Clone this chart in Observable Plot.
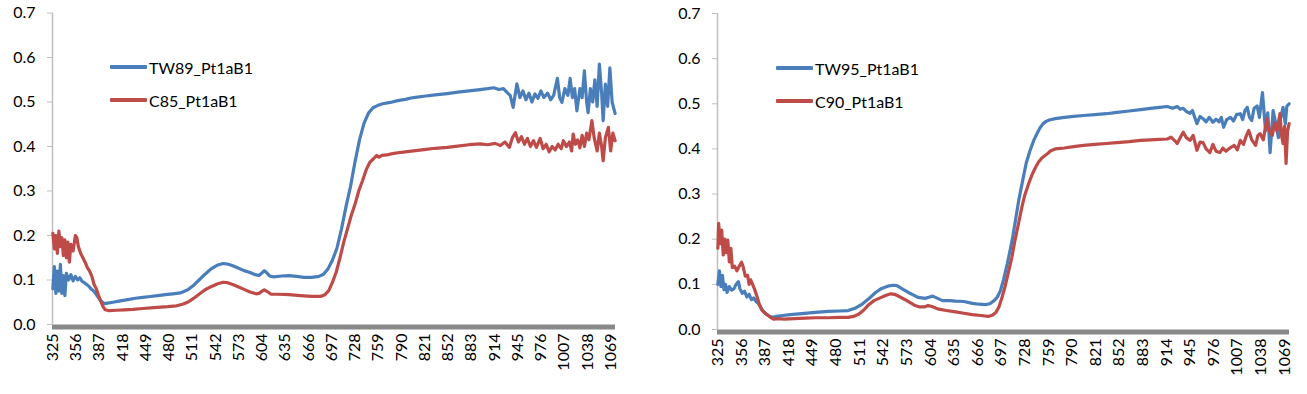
<!DOCTYPE html>
<html><head><meta charset="utf-8">
<script src="https://cdn.jsdelivr.net/npm/d3@7"></script>
<script src="https://cdn.jsdelivr.net/npm/@observablehq/plot@0.6"></script>
<style>
body{margin:0;background:#fff;font-family:Lato,"Open Sans",sans-serif;}
#wrap{position:relative;width:1307px;height:394px;overflow:hidden;background:#fff;}
.panel{position:absolute;top:0;}
.item{position:absolute;white-space:nowrap;display:flex;align-items:center;height:20px;font-size:16px;color:#000;}
.sw{display:inline-block;width:37px;height:3.5px;margin-right:2px;border-radius:1px;}
</style></head><body>
<div id="wrap"></div>
<script>
// x tick labels (wavelength, nm) and y ticks
const xTicks = [325,356,387,418,449,480,511,542,573,604,635,666,697,728,759,790,821,852,883,914,945,976,1007,1038,1069];
const yTicks = [0,0.1,0.2,0.3,0.4,0.5,0.6,0.7];

// Left chart: TW89_Pt1aB1 (blue)
const wlTW89 = [325,327,329,331,333,335,337,339,341,343,346,349,352,355,358,361,364,367,370,373,376,379,382,385,388,391,394,398,405,415,425,435,445,455,465,475,485,495,505,512,520,528,536,544,552,558,565,572,580,588,595,600,604,607,610,614,620,630,640,650,660,670,680,686,692,698,704,710,716,722,728,734,740,746,752,758,765,775,785,795,806,820,835,851,865,880,895,905,913,920,926,931,935,939,944,948,952,956,960,964,968,972,976,980,985,989,993,998,1001,1004,1008,1012,1015,1018,1021,1024,1028,1031,1034,1037,1039,1042,1045,1048,1051,1054,1057,1059,1062,1065,1068,1071,1075];
const valTW89 = [0.08,0.13,0.07,0.12,0.075,0.135,0.07,0.11,0.065,0.115,0.10,0.112,0.098,0.108,0.10,0.105,0.097,0.094,0.09,0.086,0.08,0.076,0.07,0.062,0.055,0.05,0.047,0.048,0.05,0.053,0.056,0.059,0.061,0.063,0.065,0.067,0.069,0.071,0.078,0.087,0.1,0.113,0.125,0.133,0.137,0.136,0.132,0.127,0.121,0.117,0.112,0.11,0.116,0.121,0.117,0.109,0.107,0.109,0.11,0.108,0.106,0.106,0.108,0.113,0.125,0.145,0.172,0.215,0.265,0.31,0.365,0.415,0.452,0.475,0.487,0.492,0.496,0.499,0.503,0.506,0.51,0.513,0.516,0.519,0.522,0.525,0.528,0.53,0.532,0.528,0.53,0.521,0.515,0.488,0.541,0.51,0.525,0.505,0.52,0.5,0.518,0.508,0.525,0.51,0.52,0.505,0.515,0.553,0.51,0.499,0.53,0.515,0.553,0.51,0.53,0.48,0.53,0.51,0.57,0.5,0.476,0.53,0.5,0.55,0.49,0.585,0.52,0.458,0.54,0.49,0.577,0.5,0.474];

// Left chart: C85_Pt1aB1 (red)
const wlC85 = [325,327,329,331,333,335,337,339,341,343,345,347,349,352,355,357,359,362,365,368,371,374,377,380,383,386,389,392,395,400,410,420,432,445,460,478,490,499,506,512,520,528,536,544,552,558,565,572,580,588,596,600,604,607,611,616,625,640,655,670,682,688,693,698,703,708,713,718,723,728,733,738,743,748,753,757,760,764,770,778,790,806,820,835,851,865,880,895,905,915,922,928,934,938,942,946,950,954,958,962,966,970,975,979,983,987,991,995,999,1003,1006,1010,1014,1017,1019,1022,1025,1028,1031,1034,1037,1040,1044,1047,1051,1054,1057,1059,1062,1066,1069,1072,1075];
const valC85 = [0.205,0.17,0.2,0.16,0.21,0.175,0.195,0.155,0.19,0.15,0.185,0.14,0.18,0.165,0.2,0.195,0.175,0.16,0.15,0.14,0.128,0.12,0.108,0.09,0.08,0.065,0.052,0.04,0.033,0.031,0.032,0.033,0.034,0.036,0.038,0.04,0.042,0.046,0.051,0.058,0.068,0.078,0.085,0.091,0.095,0.094,0.09,0.085,0.079,0.073,0.069,0.07,0.075,0.078,0.074,0.068,0.068,0.067,0.065,0.063,0.063,0.067,0.076,0.095,0.118,0.15,0.185,0.215,0.245,0.27,0.3,0.323,0.348,0.365,0.373,0.38,0.376,0.38,0.381,0.384,0.387,0.39,0.393,0.396,0.398,0.401,0.404,0.406,0.404,0.407,0.402,0.41,0.398,0.42,0.431,0.41,0.422,0.405,0.418,0.4,0.413,0.398,0.418,0.395,0.405,0.388,0.4,0.392,0.405,0.395,0.413,0.4,0.41,0.39,0.428,0.405,0.415,0.397,0.425,0.4,0.43,0.415,0.458,0.42,0.39,0.43,0.4,0.368,0.42,0.443,0.39,0.43,0.413];

// Right chart: TW95_Pt1aB1 (blue)
const wlTW95 = [325,327,329,331,333,335,337,340,343,346,349,352,354,357,360,363,366,369,372,375,378,381,384,388,392,397,402,410,420,435,453,470,485,496,505,515,523,532,540,548,555,560,567,575,582,588,597,603,607,612,620,630,637,648,659,668,676,682,687,692,696,700,705,709,712,716,720,726,730,735,740,744,748,752,756,760,768,780,792,805,820,835,849,865,880,893,905,915,922,928,932,936,940,945,948,951,954,958,962,966,970,975,979,983,986,989,993,998,1002,1006,1011,1014,1017,1020,1023,1026,1029,1033,1036,1040,1044,1047,1050,1054,1057,1061,1064,1067,1070,1072,1075];
const valTW95 = [0.1,0.13,0.095,0.12,0.088,0.1,0.082,0.095,0.087,0.09,0.1,0.106,0.09,0.08,0.085,0.072,0.078,0.066,0.07,0.062,0.058,0.05,0.042,0.035,0.03,0.027,0.029,0.031,0.033,0.035,0.038,0.04,0.041,0.042,0.047,0.057,0.068,0.082,0.091,0.096,0.098,0.097,0.09,0.082,0.076,0.071,0.069,0.072,0.074,0.07,0.064,0.064,0.063,0.062,0.058,0.056,0.055,0.057,0.063,0.072,0.086,0.11,0.146,0.178,0.204,0.245,0.286,0.337,0.37,0.397,0.42,0.434,0.447,0.456,0.461,0.464,0.467,0.47,0.472,0.474,0.476,0.478,0.481,0.484,0.487,0.49,0.492,0.494,0.49,0.494,0.488,0.49,0.483,0.479,0.485,0.47,0.456,0.472,0.467,0.46,0.47,0.459,0.466,0.46,0.47,0.448,0.465,0.47,0.462,0.476,0.478,0.465,0.485,0.492,0.47,0.463,0.49,0.495,0.47,0.525,0.441,0.48,0.392,0.485,0.46,0.425,0.47,0.492,0.455,0.495,0.5];

// Right chart: C90_Pt1aB1 (red)
const wlC90 = [325,326,328,330,332,334,336,338,340,342,344,347,350,353,356,358,361,364,366,368,370,373,376,379,382,386,390,394,398,405,412,425,440,453,470,485,496,503,509,516,523,530,538,546,552,557,563,571,578,584,590,596,601,606,615,625,637,648,659,670,680,686,690,694,698,702,706,711,715,720,724,728,733,738,742,746,751,755,758,762,768,780,792,805,820,835,849,865,880,893,905,915,920,925,928,932,936,940,945,949,954,958,962,966,971,975,979,984,988,992,998,1003,1007,1011,1015,1019,1022,1026,1031,1034,1037,1041,1046,1049,1053,1056,1059,1063,1065,1067,1069,1071,1073,1075];
const valC90 = [0.18,0.235,0.19,0.22,0.165,0.2,0.17,0.198,0.15,0.18,0.137,0.14,0.13,0.14,0.149,0.14,0.118,0.12,0.1,0.11,0.102,0.09,0.075,0.058,0.045,0.037,0.032,0.027,0.023,0.024,0.023,0.024,0.025,0.026,0.026,0.027,0.027,0.029,0.033,0.042,0.055,0.064,0.07,0.076,0.079,0.078,0.073,0.066,0.059,0.053,0.05,0.05,0.053,0.051,0.045,0.042,0.039,0.036,0.033,0.031,0.029,0.032,0.038,0.05,0.071,0.095,0.124,0.16,0.197,0.237,0.27,0.298,0.323,0.345,0.359,0.371,0.381,0.386,0.39,0.396,0.4,0.402,0.405,0.408,0.41,0.412,0.414,0.416,0.419,0.42,0.421,0.422,0.426,0.418,0.412,0.425,0.437,0.425,0.419,0.43,0.397,0.415,0.414,0.4,0.392,0.41,0.395,0.392,0.402,0.395,0.403,0.408,0.398,0.419,0.41,0.43,0.441,0.42,0.408,0.43,0.434,0.42,0.467,0.44,0.43,0.458,0.44,0.478,0.43,0.412,0.45,0.368,0.44,0.456];

const BLUE = "#4A7EBB", RED = "#BE4B48";

function panel({left, width, mL, mR, mT, mB, series, legendX, legendY}) {
  const data = series.flatMap(s => s.wl.map((w, i) => ({wl: w, v: s.v[i], name: s.name})));
  const chart = Plot.plot({
    width, height: 394,
    marginLeft: mL, marginRight: mR, marginTop: mT, marginBottom: mB,
    style: {fontFamily: "Lato, 'Open Sans', sans-serif", fontSize: "16px", color: "#000", background: "transparent", overflow: "visible"},
    x: {domain: [324.5, 1075.5]},
    y: {domain: [0, 0.7]},
    marks: [
      Plot.ruleX([324.5], {stroke: "#bfbfbf", strokeWidth: 1.5}),
      Plot.axisY({ticks: yTicks, tickFormat: d => d.toFixed(1), tickSize: 5, tickPadding: 12, stroke: "#bfbfbf", strokeOpacity: 1, label: null, fontSize: 16}),
      Plot.axisX({ticks: xTicks, tickFormat: d => String(d), tickRotate: -90, tickSize: 0, tickPadding: 9, label: null, fontSize: 16}),
      Plot.line(data, {x: "wl", y: "v", z: "name", stroke: d => d.name.startsWith("TW") ? BLUE : RED, strokeWidth: 3.2, curve: "linear"}),
      Plot.ruleY([0], {stroke: "#898989", strokeWidth: 5, dy: 2.5})
    ]
  });
  const div = document.createElement("div");
  div.className = "panel";
  div.style.left = left + "px";
  div.style.width = width + "px";
  div.appendChild(chart);
  series.forEach((s, i) => {
    const it = document.createElement("div");
    it.className = "item";
    it.style.left = (legendX - left) + "px";
    it.style.top = (legendY[i] - 10) + "px";
    const sw = document.createElement("span");
    sw.className = "sw";
    sw.style.background = s.name.startsWith("TW") ? BLUE : RED;
    const tx = document.createElement("span");
    tx.textContent = s.name;
    it.appendChild(sw); it.appendChild(tx);
    div.appendChild(it);
  });
  document.getElementById("wrap").appendChild(div);
}

panel({left: 0, width: 650, mL: 52, mR: 35, mT: 12.5, mB: 70,
  series: [{name: "TW89_Pt1aB1", wl: wlTW89, v: valTW89}, {name: "C85_Pt1aB1", wl: wlC85, v: valC85}],
  legendX: 110, legendY: [67, 100]});
panel({left: 650, width: 657, mL: 67, mR: 18, mT: 13, mB: 65,
  series: [{name: "TW95_Pt1aB1", wl: wlTW95, v: valTW95}, {name: "C90_Pt1aB1", wl: wlC90, v: valC90}],
  legendX: 776, legendY: [68, 101]});
</script>
</body></html>
